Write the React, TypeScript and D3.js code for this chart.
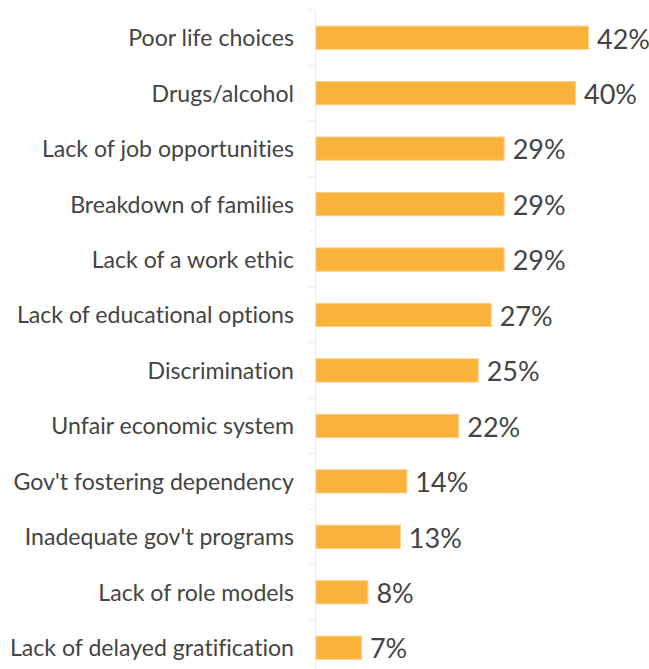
import React from "react";
import * as d3 from "d3";

const categories = [
  "Poor life choices",
  "Drugs/alcohol",
  "Lack of job opportunities",
  "Breakdown of families",
  "Lack of a work ethic",
  "Lack of educational options",
  "Discrimination",
  "Unfair economic system",
  "Gov't fostering dependency",
  "Inadequate gov't programs",
  "Lack of role models",
  "Lack of delayed gratification",
];
const values = [42, 40, 29, 29, 29, 27, 25, 22, 14, 13, 8, 7];

const W = 649;
const H = 669;
const axisX = 315.5;

export default function App() {
  const x = d3.scaleLinear().domain([0, 42]).range([axisX, 588]);
  const y = d3
    .scaleBand<string>()
    .domain(categories)
    .range([10, 10 + 55.45 * categories.length])
    .paddingInner(0.58)
    .paddingOuter(0.29);
  const step = y.step();
  const font = "Lato, 'Open Sans', sans-serif";
  return (
    <svg
      width={W}
      height={H}
      style={{
        position: "absolute",
        left: 0,
        top: 0,
        background: "#fff",
        fontVariantLigatures: "none",
      }}
    >
      <line x1={axisX} x2={axisX} y1={10} y2={H} stroke="#ebebeb" strokeWidth={1} />
      {categories.map((c, i) => (
        <line
          key={"t" + i}
          x1={axisX - 7}
          x2={axisX}
          y1={10 + i * step}
          y2={10 + i * step}
          stroke="#ebebeb"
        />
      ))}
      {categories.map((c, i) => {
        const yc = (y(c) as number) + y.bandwidth() / 2;
        return (
          <g key={c}>
            <rect
              x={x(0) + 0.5}
              y={y(c)}
              width={x(values[i]) - x(0)}
              height={y.bandwidth()}
              fill="#F9B33B"
              stroke="#FCD08A"
              strokeWidth={1}
            />
            <text
              x={294}
              y={yc - 0.5}
              textAnchor="end"
              dominantBaseline="central"
              fontFamily={font}
              fontSize={23.1}
              fill="#444"
            >
              {c}
            </text>
            <text
              x={x(values[i]) + 9}
              y={yc + 0.3}
              dominantBaseline="central"
              fontFamily={font}
              fontSize={27}
              fill="#444"
            >
              {values[i] + "%"}
            </text>
          </g>
        );
      })}
    </svg>
  );
}
